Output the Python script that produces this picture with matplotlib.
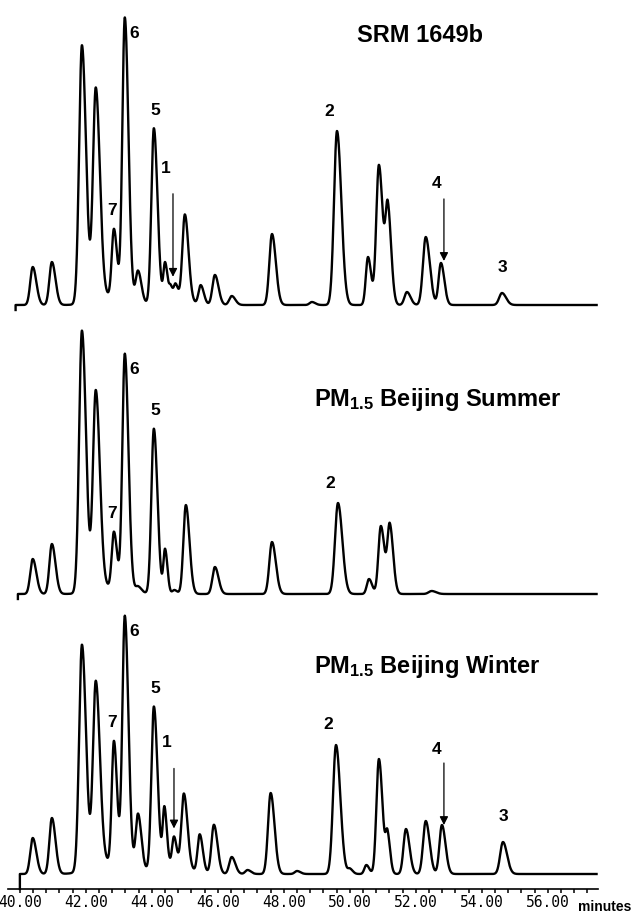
import matplotlib
matplotlib.use("Agg")
import matplotlib.pyplot as plt
import numpy as np

plt.rcParams['font.family'] = ['Liberation Sans', 'DejaVu Sans']
plt.rcParams['mathtext.fontset'] = 'custom'
plt.rcParams['mathtext.rm'] = 'Liberation Sans:bold'
plt.rcParams['mathtext.bf'] = 'Liberation Sans:bold'
plt.rcParams['mathtext.default'] = 'rm'

# peak tables: retention time (min), height, width (min)
srm_rt = [40.39, 40.97, 41.88, 42.30, 42.85, 43.18, 43.58, 44.06, 44.40, 44.57, 44.72,
          45.00, 45.48, 45.91, 46.42, 47.64, 48.85, 49.61, 50.55, 50.88, 51.15, 51.73,
          52.30, 52.76, 54.61, 42.60, 44.60]
srm_height = [38, 43, 258, 210, 68, 282, 32, 175, 36, 11, 14,
              86, 19, 30, 9, 71, 3, 174, 48, 140, 95, 13,
              68, 42, 12, 9, 7]
srm_width = [0.075, 0.075, 0.085, 0.085, 0.065, 0.075, 0.07, 0.075, 0.05, 0.045, 0.05,
             0.075, 0.065, 0.075, 0.075, 0.08, 0.07, 0.09, 0.065, 0.08, 0.07, 0.075,
             0.085, 0.07, 0.085, 0.4, 0.3]

summer_rt = [40.39, 40.97, 41.88, 42.30, 42.85, 43.18, 43.58, 44.06, 44.40, 44.68,
             45.03, 45.91, 47.64, 49.64, 50.58, 50.94, 51.21, 52.48, 42.60]
summer_height = [35, 50, 262, 198, 56, 236, 6, 165, 44, 4,
                 89, 27, 52, 91, 15, 68, 68, 3, 7]
summer_width = [0.075, 0.075, 0.085, 0.085, 0.065, 0.075, 0.07, 0.075, 0.05, 0.06,
                0.075, 0.075, 0.08, 0.09, 0.065, 0.075, 0.07, 0.09, 0.4]

winter_rt = [40.39, 40.97, 41.88, 42.30, 42.85, 43.18, 43.58, 44.06, 44.38, 44.67,
             44.97, 45.45, 45.88, 46.42, 46.90, 47.60, 48.40, 49.58, 50.00, 50.50,
             50.88, 51.14, 51.70, 52.30, 52.79, 54.64, 42.60, 44.50]
winter_height = [36, 56, 226, 183, 122, 250, 56, 162, 56, 28,
                 74, 38, 49, 17, 4, 81, 3, 129, 5, 9,
                 115, 38, 45, 53, 49, 32, 12, 10]
winter_width = [0.075, 0.075, 0.085, 0.085, 0.065, 0.075, 0.07, 0.075, 0.05, 0.055,
                0.075, 0.065, 0.075, 0.075, 0.07, 0.08, 0.07, 0.09, 0.06, 0.06,
                0.075, 0.055, 0.075, 0.08, 0.075, 0.085, 0.45, 0.35]

titles = ["SRM 1649b", r"PM$_{1.5}$ Beijing Summer", r"PM$_{1.5}$ Beijing Winter"]
run_start = [39.87, 39.94, 40.0]
run_end = 57.48
start_dip = [5, 5, 15]

# labelled compounds: (label, retention time)
srm_labels = [("6", 43.18), ("5", 44.06), ("7", 42.85), ("2", 49.61), ("3", 54.61)]
srm_arrows = [("1", 44.64), ("4", 52.76)]
summer_labels = [("6", 43.18), ("5", 44.06), ("7", 42.85), ("2", 49.64)]
summer_arrows = []
winter_labels = [("6", 43.18), ("5", 44.06), ("7", 42.85), ("2", 49.58), ("3", 54.64)]
winter_arrows = [("1", 44.67), ("4", 52.79)]

xticks = np.arange(40, 57, 2)
xtick_labels = ["%.2f" % v for v in xticks]

# ---- layout (pixels of the 635x913 canvas) ----
W, H = 635, 913
TAIL = 1.45
label_off = {"6": (9, -16), "5": (1, 18), "7": (-2, 18), "2": (-8, 20), "3": (0, 26)}
# arrow: (dx, tip gap, length, label gap)
arrow_off = [{"1": (0, 11, 83, 25), "4": (3, 2, 62, 15)},
             {},
             {"1": (0, 8, 60, 26), "4": (2, 0, 62, 14)}]
panels_px = [(0, 320, 305), (320, 605, 594), (605, 889, 874)]   # top, bottom, baseline
title_px = [(357, 42), (314, 406), (314, 673)]
xlim = (39.64, 57.52)


def chromatogram(t, rt, height, width):
    y = np.zeros_like(t)
    for r, a, s in zip(rt, height, width):
        s_eff = np.where(t < r, s, s * TAIL)
        y += a * np.exp(-0.5 * ((t - r) / s_eff) ** 2)
    return y


fig = plt.figure(figsize=(W / 100, H / 100), dpi=100)

tables = [(srm_rt, srm_height, srm_width, srm_labels, srm_arrows),
          (summer_rt, summer_height, summer_width, summer_labels, summer_arrows),
          (winter_rt, winter_height, winter_width, winter_labels, winter_arrows)]

axes = []
for i, (rt, hh, ww, labs, arrs) in enumerate(tables):
    top, bot, base = panels_px[i]
    ax = fig.add_axes([8 / W, 1 - bot / H, 590 / W, (bot - top) / H])
    ax.set_xlim(*xlim)
    ax.set_ylim(-(bot - base), base - top)   # 1 unit = 1 pixel
    t = np.arange(run_start[i], run_end, 0.004)
    y = chromatogram(t, rt, hh, ww)
    ax.plot(np.r_[run_start[i], t], np.r_[-start_dip[i], y], color="black", lw=1.7,
            solid_joinstyle="round", clip_on=False)

    for lab, r in labs:
        yv = np.interp(r, t, y)
        ax.annotate(lab, xy=(r, yv), xytext=label_off[lab], textcoords="offset pixels",
                    ha="center", va="center", fontsize=12.5, fontweight="bold")
    for lab, r in arrs:
        dx, gap, length, lgap = arrow_off[i][lab]
        yv = np.interp(r, t, y)
        xr = r + dx / 33.0
        ax.annotate("", xy=(xr, yv + gap), xytext=(xr, yv + gap + length),
                    arrowprops=dict(arrowstyle="-|>,head_length=0.55,head_width=0.28",
                                    mutation_scale=9, lw=0.9, color="black",
                                    shrinkA=0, shrinkB=0))
        ax.text(xr - 7 / 33.0, yv + gap + length + lgap, lab, ha="center", va="center",
                fontsize=12.5, fontweight="bold")

    for s in ax.spines.values():
        s.set_visible(False)
    ax.set_yticks([])
    ax.patch.set_alpha(0)
    if i < 2:
        ax.set_xticks([])
    axes.append(ax)

    tx, ty = title_px[i]
    fig.text(tx / W, 1 - ty / H, titles[i], ha="left", va="baseline",
             fontsize=17, fontweight="bold")

ax = axes[-1]
ax.spines["bottom"].set_visible(True)
ax.spines["bottom"].set_linewidth(1.2)
ax.set_xticks(xticks)
ax.set_xticklabels(xtick_labels, family="DejaVu Sans Mono", fontsize=10.5)
ax.set_xticks(np.arange(40, 57.5, 0.4), minor=True)
ax.tick_params(axis="x", which="both", direction="out", length=3, width=1.1, pad=1.5)

fig.text(578 / W, 1 - 911 / H, "minutes", ha="left", va="baseline",
         fontsize=10, fontweight="bold")

fig.savefig("out.png", dpi=100)
